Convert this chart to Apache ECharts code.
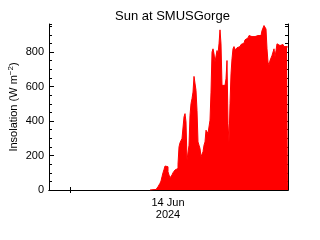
<!DOCTYPE html>
<html><head><meta charset="utf-8">
<script src="https://cdn.jsdelivr.net/npm/echarts@6/dist/echarts.min.js"></script>
<style>html,body{margin:0;padding:0;background:#fff}#c{width:320px;height:240px}</style>
</head><body><div id="c"></div>
<script>
// sample index along the time axis (0..239); data before the first sample is missing
var axisStart = 0, axisEnd = 239;
var firstSample = 101;
var insolation = [0,1,2,2,3,3,
4,10,19,29,39,52,77,100,119,139,145,135,106,87,71,71,87,100,106,116,119,125,150,250,
274,279,299,304,424,443,395,173,164,260,434,501,530,568,659,655,578,462,279,260,
241,193,193,222,260,279,347,356,328,328,405,568,800,819,790,742,732,809,790,848,
929,848,607,607,607,607,645,751,385,279,501,674,761,819,832,813,819,825,832,832,
838,844,848,852,863,871,877,882,890,896,890,890,890,886,890,896,896,896,890,890,
896,906,925,934,954,963,934,819,742,723,751,761,780,790,819,771,809,848,852,838,
848,838,844,838,832,838,832,828];
var dateTickPos = 119, dateLabel = '14 Jun\n2024';
var minorTimeTicks = [21.7];
var yMax = 963;
var yLabelTicks = [0,200,400,600,800];

var pts = [];
for (var i = 0; i < insolation.length; i++) pts.push([firstSample + i, insolation[i]]);
pts.push([firstSample + insolation.length, insolation[insolation.length-1]]);

var font = 'Liberation Sans';
var ax = {lineStyle:{color:'#000',width:1}};
var chart = echarts.init(document.getElementById('c'), null, {renderer:'canvas'});
chart.setOption({
  animation:false,
  backgroundColor:'#fff',
  title:{text:'Sun at SMUSGorge',left:110,top:5,textStyle:{fontFamily:font,fontSize:13,fontWeight:'normal',color:'#000'}},
  grid:{left:49,right:32,top:24,bottom:50,containLabel:false,outerBoundsMode:'none'},
  xAxis:[
    {type:'value',min:axisStart,max:axisEnd,position:'bottom',axisLine:ax,splitLine:{show:false},
     axisTick:{show:true,inside:true,length:3,customValues:minorTimeTicks,lineStyle:{color:'#000'}},
     axisLabel:{customValues:[dateTickPos],formatter:function(){return dateLabel;},fontFamily:font,fontSize:11,color:'#000',margin:7,lineHeight:12}},
    {type:'value',min:axisStart,max:axisEnd,position:'top',axisLine:ax,splitLine:{show:false},
     axisTick:{show:true,inside:true,length:3,customValues:minorTimeTicks,lineStyle:{color:'#000'}},
     axisLabel:{show:false}}
  ],
  yAxis:[
    {type:'value',min:0,max:yMax,interval:200,position:'left',axisLine:{show:true,lineStyle:{color:'#000'}},splitLine:{show:false},
     axisTick:{inside:true,length:5,customValues:yLabelTicks,lineStyle:{color:'#000'}},
     axisLabel:{customValues:yLabelTicks,fontFamily:font,fontSize:11,color:'#000',margin:5},
     name:'{a|Insolation (W m}{s|−2}{a|)}',nameLocation:'middle',nameGap:28,nameMoveOverlap:false,
     nameTextStyle:{rich:{a:{fontFamily:font,fontSize:11,color:'#000'},s:{fontFamily:font,fontSize:8,color:'#000',verticalAlign:'top',padding:[0,0,6,0]}}}},
    {type:'value',min:0,max:yMax,interval:50,position:'left',axisLine:{show:false},splitLine:{show:false},
     axisTick:{inside:true,length:3,lineStyle:{color:'#000'}},axisLabel:{show:false}},
    {type:'value',min:0,max:yMax,interval:200,position:'right',axisLine:{show:true,lineStyle:{color:'#000'}},splitLine:{show:false},
     axisTick:{inside:true,length:5,customValues:yLabelTicks,lineStyle:{color:'#000'}},axisLabel:{show:false}},
    {type:'value',min:0,max:yMax,interval:50,position:'right',axisLine:{show:false},splitLine:{show:false},
     axisTick:{inside:true,length:3,lineStyle:{color:'#000'}},axisLabel:{show:false}}
  ],
  series:[{type:'line',step:'end',data:pts,showSymbol:false,symbol:'none',
    lineStyle:{color:'#ff0000',width:1},areaStyle:{color:'#ff0000',opacity:1},z:1}]
});
</script></body></html>
